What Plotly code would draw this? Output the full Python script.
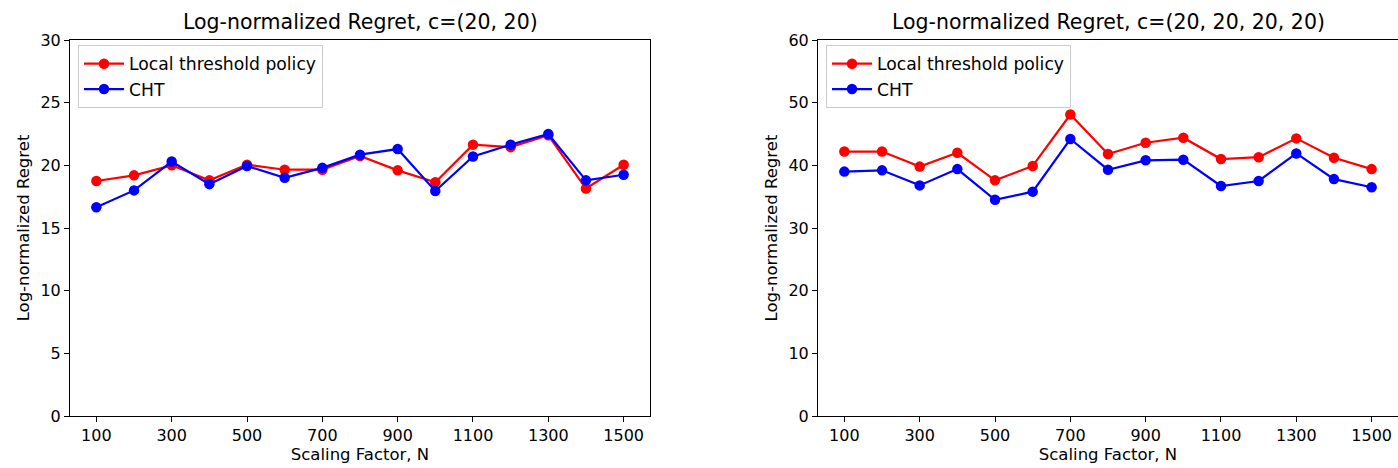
import plotly.graph_objects as go

N = [100, 200, 300, 400, 500, 600, 700, 800, 900, 1000, 1100, 1200, 1300, 1400, 1500]

left_local = [18.75, 19.2, 20.0, 18.8, 20.05, 19.65, 19.65, 20.75, 19.6, 18.65, 21.65, 21.45, 22.4, 18.15, 20.05]
left_cht = [16.65, 18.0, 20.3, 18.5, 19.95, 19.0, 19.8, 20.85, 21.3, 17.95, 20.7, 21.65, 22.5, 18.8, 19.25]

right_local = [42.2, 42.2, 39.8, 42.0, 37.6, 39.9, 48.1, 41.8, 43.6, 44.4, 41.0, 41.3, 44.3, 41.2, 39.4]
right_cht = [39.0, 39.2, 36.8, 39.4, 34.5, 35.8, 44.2, 39.3, 40.8, 40.9, 36.7, 37.5, 41.9, 37.8, 36.5]

x_ticks = [100, 300, 500, 700, 900, 1100, 1300, 1500]
titles = ["Log-normalized Regret, c=(20, 20)", "Log-normalized Regret, c=(20, 20, 20, 20)"]
series_names = ["Local threshold policy", "CHT"]
colors = ["#ff0000", "#0000ff"]

W, H = 1398, 468
FONT = "DejaVu Sans"
FS = 16.5

fig = go.Figure()

panels = [
    dict(local=left_local, cht=left_cht, xa="x", ya="y", legend="legend"),
    dict(local=right_local, cht=right_cht, xa="x2", ya="y2", legend="legend2"),
]

for p in panels:
    for name, vals, col in zip(series_names, [p["local"], p["cht"]], colors):
        fig.add_trace(go.Scatter(
            x=N, y=vals, name=name, mode="lines+markers",
            line=dict(color=col, width=2.2),
            marker=dict(color=col, size=10.5),
            xaxis=p["xa"], yaxis=p["ya"], legend=p["legend"],
        ))

dom_left = [70 / W, 650 / W]
dom_right = [818 / W, 1.0]

axis_common = dict(
    showline=True, linecolor="black", linewidth=1, mirror=True,
    ticks="outside", ticklen=5, tickcolor="black", tickwidth=1,
    showgrid=False, zeroline=False,
    tickfont=dict(family=FONT, size=16, color="black"),
)

legend_common = dict(
    xanchor="left", yanchor="top",
    bgcolor="white", bordercolor="#cccccc", borderwidth=1,
    font=dict(family=FONT, size=17.2, color="black"), tracegroupgap=0,
    itemwidth=40,
)

fig.update_layout(
    width=W, height=H,
    margin=dict(l=0, r=0, t=40, b=52),
    plot_bgcolor="white", paper_bgcolor="white",
    font=dict(family=FONT, size=FS, color="black"),
    xaxis=dict(domain=dom_left, range=[30, 1570], tickvals=x_ticks, anchor="y",
               title=dict(text="Scaling Factor, N", font=dict(size=FS), standoff=2), **axis_common),
    yaxis=dict(domain=[0, 1], range=[0, 30], dtick=5, anchor="x",
               title=dict(text="Log-normalized Regret", font=dict(size=FS), standoff=6), **axis_common),
    xaxis2=dict(domain=dom_right, range=[30, 1570], tickvals=x_ticks, anchor="y2",
                title=dict(text="Scaling Factor, N", font=dict(size=FS), standoff=2), **axis_common),
    yaxis2=dict(domain=[0, 1], range=[0, 60], dtick=10, anchor="x2",
                title=dict(text="Log-normalized Regret", font=dict(size=FS), standoff=6), **axis_common),
    legend=dict(x=78 / W, y=(416 - 45) / 376, **legend_common),
    legend2=dict(x=826 / W, y=(416 - 45) / 376, **legend_common),
    annotations=[
        dict(text=titles[0], x=(dom_left[0] + dom_left[1]) / 2, y=1, xref="paper", yref="paper",
             xanchor="center", yanchor="bottom", yshift=4, showarrow=False,
             font=dict(family=FONT, size=20.5, color="black")),
        dict(text=titles[1], x=(818 + 1398) / 2 / W, y=1, xref="paper", yref="paper",
             xanchor="center", yanchor="bottom", yshift=4, showarrow=False,
             font=dict(family=FONT, size=20.5, color="black")),
    ],
)

fig.write_html("out.html", config={"displayModeBar": False},
               post_script="document.body.style.margin='0';document.body.style.padding='0';")
